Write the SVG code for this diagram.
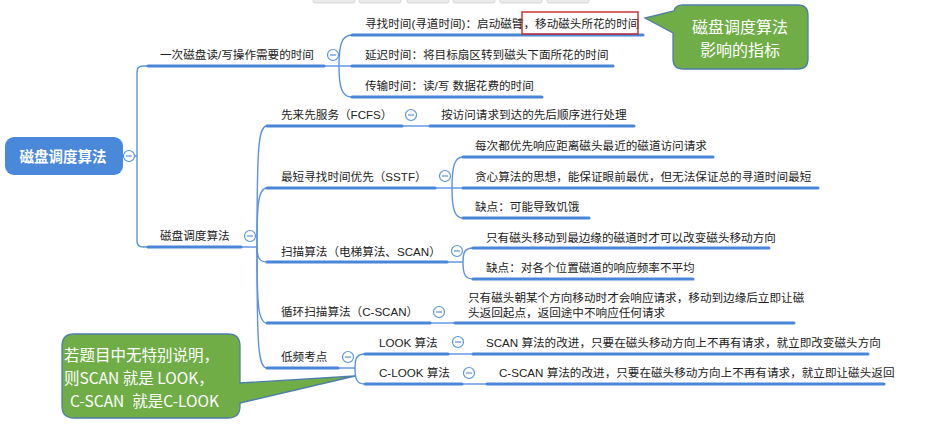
<svg xmlns="http://www.w3.org/2000/svg" width="941" height="425" viewBox="0 0 941 425">
<style>
  .bg{fill:#ffffff}
  .t{font-family:"Liberation Sans","Noto Sans CJK SC",sans-serif;font-size:11.6px;fill:#222}
  .ul{stroke:#4a86d8;stroke-width:3;fill:none;stroke-linecap:round}
  .cn{stroke:#5b93e0;stroke-width:1.4;fill:none}
  .col circle{fill:#fff;stroke:#5b93e0;stroke-width:1.2}
  .col line{stroke:#5b93e0;stroke-width:1.2}
  .rootbox{fill:#4a88da}
  .roott{font-family:"Liberation Sans","Noto Sans CJK SC",sans-serif;font-size:14.5px;font-weight:bold;fill:#fff}
  .callout{fill:#70ad47;stroke:#4f7fa8;stroke-width:1.3}
  .ct{font-family:"Noto Sans CJK SC",sans-serif;fill:#fff}
  .tab{fill:#ececec;stroke:#c4c4c4;stroke-width:0.6}
</style>
<defs>
  <g id="minus" class="col"><circle cx="0" cy="0" r="5.5"/><line x1="-3" y1="0" x2="3" y2="0"/></g>
</defs>
<rect class="bg" x="0" y="0" width="941" height="425"/>

<g id="toolbar-tabs">
  <rect class="tab" x="313" y="-4" width="42" height="7" rx="2"/>
  <rect class="tab" x="359" y="-4" width="42" height="7" rx="2"/>
  <rect class="tab" x="407" y="-4" width="42" height="7" rx="2"/>
  <rect class="tab" x="453" y="-4" width="42" height="7" rx="2"/>
  <rect class="tab" x="500" y="-4" width="42" height="7" rx="2"/>
  <rect class="tab" x="547" y="-4" width="42" height="7" rx="2"/>
</g>

<g id="connectors">
  <path class="cn" d="M122 156 L137 156"/>
  <path class="cn" d="M137 156 L137 72 Q137 66 143 66 L148 66"/>
  <path class="cn" d="M137 156 L137 241 Q137 247 143 247 L148 247"/>
  <path class="cn" d="M324 66 L352 66"/>
  <path class="cn" d="M339 66 C339 44 342 35 352 35"/>
  <path class="cn" d="M339 66 C339 88 342 97 352 97"/>
  <path class="cn" d="M241 247 L257 247"/>
  <path class="cn" d="M257 247 C257 150 258 126 267 126"/>
  <path class="cn" d="M257 247 C257 205 258 188 267 188"/>
  <path class="cn" d="M257 247 C257 257 259 262 267 262"/>
  <path class="cn" d="M257 247 C257 305 258 323 267 323"/>
  <path class="cn" d="M257 247 C257 345 258 368 267 368"/>
  <path class="cn" d="M402 126 L430 126"/>
  <path class="cn" d="M435 188 L463 188"/>
  <path class="cn" d="M452 188 C452 165 455 157 463 157"/>
  <path class="cn" d="M452 188 C452 210 455 218 463 218"/>
  <path class="cn" d="M447 262 L463 262"/>
  <path class="cn" d="M463 262 C463 252 465 248 473 248"/>
  <path class="cn" d="M463 262 C463 274 465 279 473 279"/>
  <path class="cn" d="M430 323 L455 323"/>
  <path class="cn" d="M338 368 L355 368"/>
  <path class="cn" d="M355 368 C355 358 357 354 365 354"/>
  <path class="cn" d="M355 368 C355 380 357 384 365 384"/>
  <path class="cn" d="M448 354 L473 354"/>
  <path class="cn" d="M462 384 L487 384"/>
</g>

<g id="root">
  <rect class="rootbox" x="5" y="137" width="118" height="38" rx="9"/>
  <text class="roott" x="63" y="162" text-anchor="middle">磁盘调度算法</text>
  <use href="#minus" x="129" y="156"/>
</g>

<g id="n1">
  <line class="ul" x1="148" y1="66" x2="324" y2="66"/>
  <text class="t" x="160" y="59">一次磁盘读/写操作需要的时间</text>
  <use href="#minus" x="333" y="55"/>
</g>
<g id="n1a">
  <line class="ul" x1="352" y1="35" x2="643" y2="35"/>
  <text class="t" x="365" y="28">寻找时间(寻道时间)：启动磁臂，移动磁头所花的时间</text>
</g>
<g id="n1b">
  <line class="ul" x1="352" y1="66" x2="613" y2="66"/>
  <text class="t" x="365" y="59">延迟时间：将目标扇区转到磁头下面所花的时间</text>
</g>
<g id="n1c">
  <line class="ul" x1="352" y1="97" x2="542" y2="97"/>
  <text class="t" x="365" y="90">传输时间：读/写 数据花费的时间</text>
</g>

<g id="n2">
  <line class="ul" x1="148" y1="247" x2="241" y2="247"/>
  <text class="t" x="160" y="240">磁盘调度算法</text>
  <use href="#minus" x="250" y="236"/>
</g>
<g id="n2a">
  <line class="ul" x1="267" y1="126" x2="402" y2="126"/>
  <text class="t" x="281" y="119">先来先服务（FCFS）</text>
  <use href="#minus" x="411" y="115"/>
</g>
<g id="n2a1">
  <line class="ul" x1="430" y1="126" x2="634" y2="126"/>
  <text class="t" x="441" y="119">按访问请求到达的先后顺序进行处理</text>
</g>
<g id="n2b">
  <line class="ul" x1="267" y1="188" x2="435" y2="188"/>
  <text class="t" x="281" y="181">最短寻找时间优先（SSTF）</text>
  <use href="#minus" x="445" y="176"/>
</g>
<g id="n2b1">
  <line class="ul" x1="463" y1="157" x2="713" y2="157"/>
  <text class="t" x="475" y="150">每次都优先响应距离磁头最近的磁道访问请求</text>
</g>
<g id="n2b2">
  <line class="ul" x1="463" y1="188" x2="818" y2="188"/>
  <text class="t" x="475" y="181">贪心算法的思想，能保证眼前最优，但无法保证总的寻道时间最短</text>
</g>
<g id="n2b3">
  <line class="ul" x1="463" y1="218" x2="589" y2="218"/>
  <text class="t" x="475" y="211">缺点：可能导致饥饿</text>
</g>
<g id="n2c">
  <line class="ul" x1="267" y1="262" x2="447" y2="262"/>
  <text class="t" x="281" y="256">扫描算法（电梯算法、SCAN）</text>
  <use href="#minus" x="457" y="251"/>
</g>
<g id="n2c1">
  <line class="ul" x1="473" y1="248" x2="769" y2="248"/>
  <text class="t" x="486" y="242">只有磁头移动到最边缘的磁道时才可以改变磁头移动方向</text>
</g>
<g id="n2c2">
  <line class="ul" x1="473" y1="279" x2="693" y2="279"/>
  <text class="t" x="486" y="272">缺点：对各个位置磁道的响应频率不平均</text>
</g>
<g id="n2d">
  <line class="ul" x1="267" y1="323" x2="430" y2="323"/>
  <text class="t" x="281" y="316">循环扫描算法（C-SCAN）</text>
  <use href="#minus" x="439" y="312"/>
</g>
<g id="n2d1">
  <line class="ul" x1="455" y1="323" x2="794" y2="323"/>
  <text class="t" x="468" y="302">只有磁头朝某个方向移动时才会响应请求，移动到边缘后立即让磁</text>
  <text class="t" x="468" y="317">头返回起点，返回途中不响应任何请求</text>
</g>
<g id="n2e">
  <line class="ul" x1="267" y1="368" x2="338" y2="368"/>
  <text class="t" x="281" y="361">低频考点</text>
  <use href="#minus" x="348" y="357"/>
</g>
<g id="n2e1">
  <line class="ul" x1="365" y1="354" x2="448" y2="354"/>
  <text class="t" x="379" y="347">LOOK 算法</text>
  <use href="#minus" x="458" y="342"/>
</g>
<g id="n2e1a">
  <line class="ul" x1="473" y1="354" x2="868" y2="354"/>
  <text class="t" x="486" y="347">SCAN 算法的改进，只要在磁头移动方向上不再有请求，就立即改变磁头方向</text>
</g>
<g id="n2e2">
  <line class="ul" x1="365" y1="384" x2="462" y2="384"/>
  <text class="t" x="379" y="377">C-LOOK 算法</text>
  <use href="#minus" x="469" y="373"/>
</g>
<g id="n2e2a">
  <line class="ul" x1="487" y1="384" x2="884" y2="384"/>
  <text class="t" x="499" y="377">C-SCAN 算法的改进，只要在磁头移动方向上不再有请求，就立即让磁头返回</text>
</g>

<g id="highlight">
  <rect x="522" y="12" width="116" height="22" fill="none" stroke="#c62828" stroke-width="1.4"/>
</g>

<g id="callout-top">
  <path class="callout" d="M683 5 H798 Q808 5 808 15 V59 Q808 69 798 69 H683 Q673 69 673 59 V33 L645 18 L674 11 Q675 5 683 5 Z"/>
  <text class="ct" x="740" y="33" font-size="16" text-anchor="middle">磁盘调度算法</text>
  <text class="ct" x="740" y="56" font-size="16" text-anchor="middle">影响的指标</text>
</g>

<g id="callout-bottom">
  <path class="callout" d="M74 334 H228 Q240 334 240 346 V383 L355 376 L240 403 V406 Q240 418 228 418 H74 Q62 418 62 406 V346 Q62 334 74 334 Z"/>
  <text class="ct" x="64" y="361" font-size="15.5">若题目中无特别说明，</text>
  <text class="ct" x="64" y="384" font-size="15.5">则SCAN 就是 LOOK，</text>
  <text class="ct" x="70" y="407" font-size="15.5">C-SCAN<tspan dx="8">就是C-LOOK</tspan></text>
</g>
</svg>
